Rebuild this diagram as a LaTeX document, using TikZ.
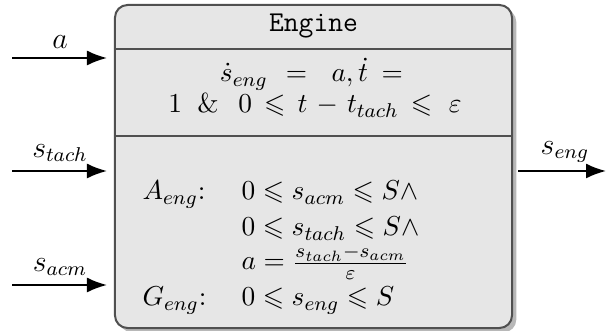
\documentclass[tikz,border=0pt]{standalone}
\usepackage{amssymb}
\usetikzlibrary{arrows.meta,shadows}
\definecolor{boxfill}{HTML}{E6E6E6}
\definecolor{boxline}{HTML}{505050}
\definecolor{shadowgray}{HTML}{B8B8B8}
\begin{document}
\begin{tikzpicture}[x=0.4pt,y=-0.4pt,
  every node/.style={font=\fontsize{10.95}{13.6}\selectfont},
  enginebox/.style={draw=boxline, fill=boxfill, line width=0.8pt, rounded corners=5pt,
    minimum width=158.8pt, minimum height=129.2pt, inner sep=0pt,
    drop shadow={shadow xshift=1.7pt, shadow yshift=-1.7pt, fill=shadowgray, opacity=1}},
  divider/.style={draw=boxline, line width=0.8pt},
  arr/.style={line width=0.8pt, -{Latex[length=8pt,width=6pt]}},
  txt/.style={inner sep=0pt, anchor=base},
  txtw/.style={inner sep=0pt, anchor=base west},
  lbl/.style={font=\fontsize{11.5}{14}\selectfont}]
\useasboundingbox (0,0) rectangle (606,331);
\node[enginebox] (engine) at (313.5,166.5) {};
\coordinate (d1) at (313.5,49);
\coordinate (d2) at (313.5,136.5);
\draw[divider] (engine.west |- d1) -- (engine.east |- d1);
\draw[divider] (engine.west |- d2) -- (engine.east |- d2);
% title and flow
\node[txt, font=\fontsize{11.5}{14}\selectfont] (title) at (313.5,32) {\texttt{Engine}};
\node[txt] (flow1) at (311.5,82) {$\dot s_{eng}\mkern12mu{=}\mkern16mu a,\dot t\mkern9mu{=}$};
\node[txt] (flow2) at (315,113) {$\thickmuskip=8mu\medmuskip=6mu
  1\mkern10mu\&\mkern13mu 0 \leqslant t - t_{tach} \leqslant\mkern3mu \varepsilon$};
% assumptions / guarantees
\node[txtw] (al) at (142,200) {$A_{eng}{:}$};
\node[txtw] (a1) at (241,200) {$0\leqslant s_{acm}\leqslant S\wedge$};
\node[txtw] (a2) at (241,236) {$0\leqslant s_{tach}\leqslant S\wedge$};
\node[txtw] (a3) at (241,270) {$a=\frac{s_{tach}-s_{acm}}{\varepsilon}$};
\node[txtw] (gl) at (142,306) {$G_{eng}{:}$};
\node[txtw] (g1) at (241,306) {$0\leqslant s_{eng}\leqslant S$};
% inputs
\coordinate (ina) at (12,58);
\coordinate (ins) at (12,171);
\coordinate (inc) at (12,285);
\draw[arr, shorten >=2.8pt] (ina) -- (ina -| engine.west);
\draw[arr, shorten >=2.8pt] (ins) -- (ins -| engine.west);
\draw[arr, shorten >=2.8pt] (inc) -- (inc -| engine.west);
\node[lbl] (la) at (60,42) {$a$};
\node[lbl] (ls) at (60,153) {$s_{tach}$};
\node[lbl] (lc) at (60,267) {$s_{acm}$};
% output
\coordinate (outs) at (606,171);
\draw[arr, shorten <=2pt] (outs -| engine.east) -- (outs);
\node[lbl] (lo) at (565,152) {$s_{eng}$};
\end{tikzpicture}
\end{document}
